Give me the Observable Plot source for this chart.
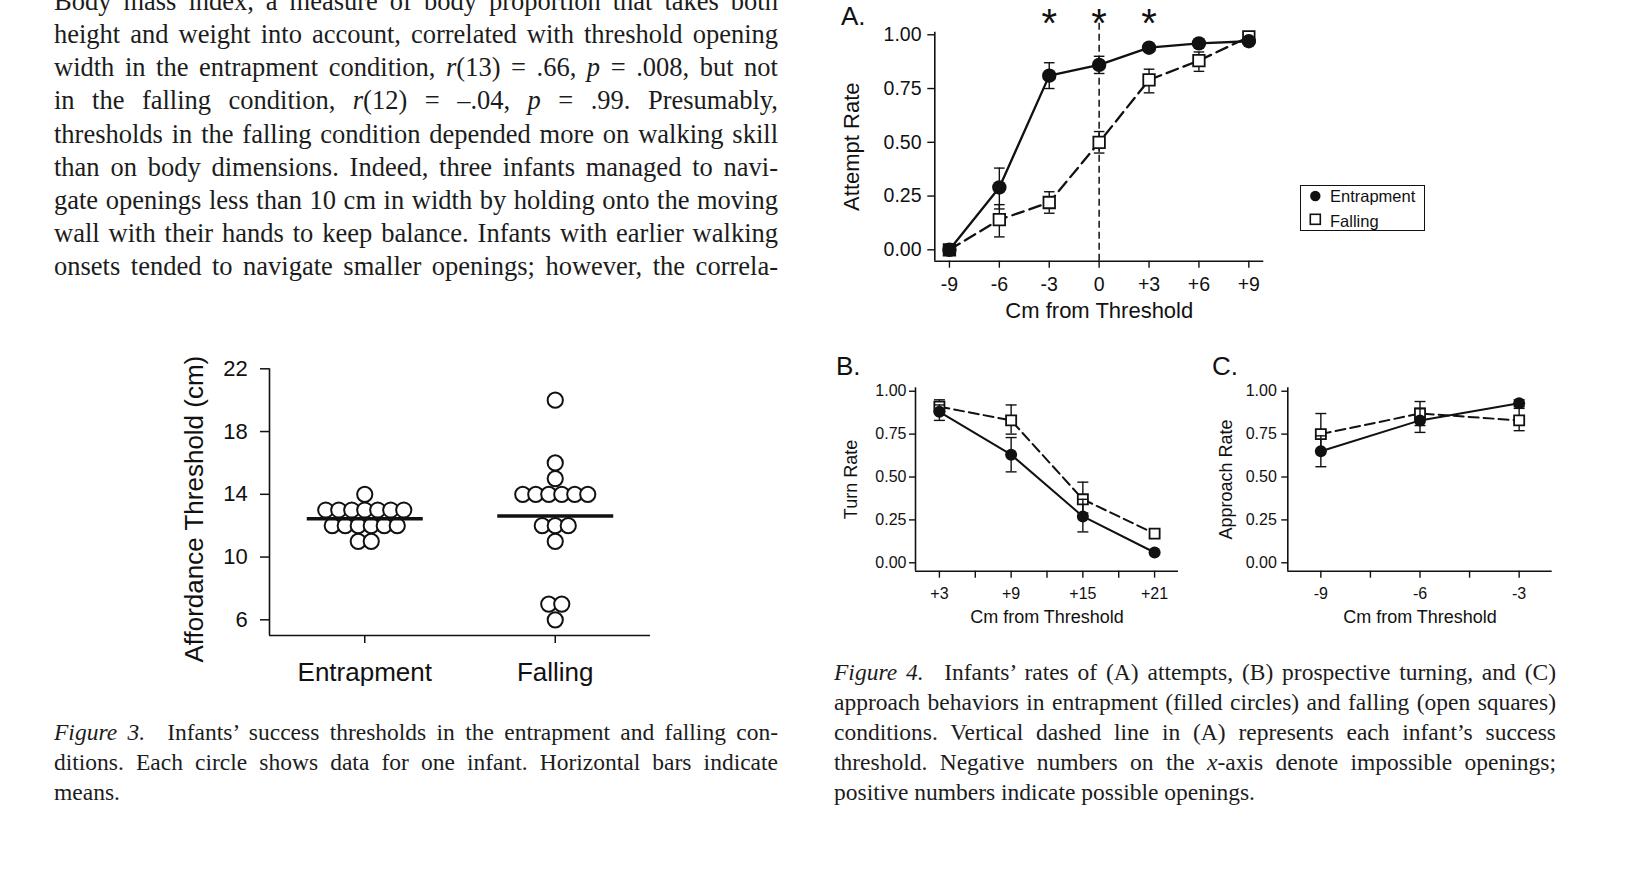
<!DOCTYPE html>
<html>
<head>
<meta charset="utf-8">
<script src="https://cdn.jsdelivr.net/npm/d3@7"></script>
<script src="https://cdn.jsdelivr.net/npm/@observablehq/plot@0.6"></script>
<style>
  html, body { margin:0; padding:0; background:#fff; }
  body { width:1628px; height:870px; position:relative; overflow:hidden; }
  .abs { position:absolute; }
  .serif { font-family:"Liberation Serif","Times New Roman",Times,serif; color:#1c1c1c; line-height:1; }
  .jl { text-align:justify; text-align-last:justify; }
  .sans { font-family:"Liberation Sans",Arial,Helvetica,sans-serif; color:#111; line-height:1; }
  svg { overflow: visible; }
</style>
</head>
<body>
<script>
// ---------------- DATA ----------------
// Figure 3: individual thresholds (cm)
const groups = ["Entrapment", "Falling"];
const entrapThresholds = [14, 13, 13, 13, 13, 13, 13, 13, 12, 12, 12, 12, 12, 12, 11, 11];
const fallThresholds = [20, 16, 15, 14, 14, 14, 14, 14, 14, 12, 12, 12, 11, 7, 7, 6];
const fig3YTicks = [6, 10, 14, 18, 22];

// Figure 4A: attempt rate
const attemptX = [-9, -6, -3, 0, 3, 6, 9];
const attemptXLabels = ["-9", "-6", "-3", "0", "+3", "+6", "+9"];
const attemptEnt = [0.00, 0.29, 0.81, 0.86, 0.94, 0.96, 0.97];
const attemptEntLo = [0.00, 0.19, 0.75, 0.82, 0.93, 0.95, 0.96];
const attemptEntHi = [0.00, 0.38, 0.87, 0.90, 0.95, 0.97, 0.98];
const attemptFal = [0.00, 0.14, 0.22, 0.50, 0.79, 0.88, 0.99];
const attemptFalLo = [0.00, 0.06, 0.17, 0.45, 0.73, 0.83, 0.98];
const attemptFalHi = [0.00, 0.21, 0.27, 0.55, 0.84, 0.92, 1.00];
const significantX = [-3, 0, 3];
const thresholdX = [0];

// Figure 4B: turn rate
const turnX = [3, 6, 9, 12, 15, 18, 21];
const turnXLabels = ["+3", "", "+9", "", "+15", "", "+21"];
const turnPts = [3, 9, 15, 21];
const turnEnt = [0.88, 0.63, 0.27, 0.06];
const turnEntLo = [0.83, 0.53, 0.18, 0.05];
const turnEntHi = [0.92, 0.73, 0.37, 0.07];
const turnFal = [0.91, 0.83, 0.37, 0.17];
const turnFalLo = [0.87, 0.75, 0.29, 0.17];
const turnFalHi = [0.95, 0.92, 0.47, 0.18];

// Figure 4C: approach rate
const apprX = [-9, -7.5, -6, -4.5, -3];
const apprXLabels = ["-9", "", "-6", "", "-3"];
const apprPts = [-9, -6, -3];
const apprEnt = [0.65, 0.83, 0.93];
const apprEntLo = [0.56, 0.76, 0.91];
const apprEntHi = [0.74, 0.90, 0.95];
const apprFal = [0.75, 0.87, 0.83];
const apprFalLo = [0.65, 0.80, 0.77];
const apprFalHi = [0.87, 0.94, 0.90];

const rateTicks = [0, 0.25, 0.5, 0.75, 1];
const rateTickLabels = ["0.00", "0.25", "0.50", "0.75", "1.00"];
const legendLabels = ["Entrapment", "Falling"];

// ---------------- TEXT ----------------
const bodyLines = [
  "Body mass index, a measure of body proportion that takes both",
  "height and weight into account, correlated with threshold opening",
  "width in the entrapment condition, <i>r</i>(13) = .66, <i>p</i> = .008, but not",
  "in the falling condition, <i>r</i>(12) = –.04, <i>p</i> = .99. Presumably,",
  "thresholds in the falling condition depended more on walking skill",
  "than on body dimensions. Indeed, three infants managed to navi-",
  "gate openings less than 10 cm in width by holding onto the moving",
  "wall with their hands to keep balance. Infants with earlier walking",
  "onsets tended to navigate smaller openings; however, the correla-"
];
const fig3Caption = [
  "<i>Figure 3.</i>&ensp; Infants’ success thresholds in the entrapment and falling con-",
  "ditions. Each circle shows data for one infant. Horizontal bars indicate",
  "means."
];
const fig4Caption = [
  "<i>Figure 4.</i>&ensp; Infants’ rates of (A) attempts, (B) prospective turning, and (C)",
  "approach behaviors in entrapment (filled circles) and falling (open squares)",
  "conditions. Vertical dashed line in (A) represents each infant’s success",
  "threshold. Negative numbers on the <i>x</i>-axis denote impossible openings;",
  "positive numbers indicate possible openings."
];

function placeLines(lines, {left, width, firstBaseline, step, fontSize, lastLeft}) {
  lines.forEach((html, i) => {
    const d = document.createElement("div");
    const last = lastLeft && i === lines.length - 1;
    d.className = "abs serif" + (last ? "" : " jl");
    d.style.left = left + "px";
    d.style.width = width + "px";
    d.style.fontSize = fontSize + "px";
    d.style.top = (firstBaseline + i * step - 0.8375 * fontSize) + "px";
    d.innerHTML = html;
    document.body.appendChild(d);
  });
}
placeLines(bodyLines, {left: 54, width: 724, firstBaseline: 10.5, step: 33.06, fontSize: 26.5});
placeLines(fig3Caption, {left: 54, width: 724, firstBaseline: 741, step: 30, fontSize: 23.5, lastLeft: true});
placeLines(fig4Caption, {left: 834, width: 722, firstBaseline: 681, step: 30, fontSize: 23.5, lastLeft: true});

function placeSans(text, left, baseline, fontSize) {
  const d = document.createElement("div");
  d.className = "abs sans";
  d.style.left = left + "px";
  d.style.top = (baseline - 0.8465 * fontSize) + "px";
  d.style.fontSize = fontSize + "px";
  d.style.zIndex = 5;
  d.textContent = text;
  document.body.appendChild(d);
}

function placeSvg(svg, left, top) {
  const wrap = document.createElement("div");
  wrap.className = "abs";
  wrap.style.left = left + "px";
  wrap.style.top = top + "px";
  wrap.appendChild(svg);
  document.body.appendChild(wrap);
}

const SANS = "'Liberation Sans', Arial, Helvetica, sans-serif";
const hline = { draw(ctx, size) { const r = Math.sqrt(size / Math.PI); ctx.moveTo(-r, 0); ctx.lineTo(r, 0); } };

// ---------------- FIGURE 3 ----------------
const dotStep = 13 / 190.5;
function swarm(values, gi) {
  const counts = d3.rollup(values, v => v.length, d => d);
  const seen = new Map();
  return values.map(v => {
    const n = counts.get(v), i = seen.get(v) ?? 0;
    seen.set(v, i + 1);
    return {x: gi + 1 + (i - (n - 1) / 2) * dotStep, y: v};
  });
}
const fig3Dots = [...swarm(entrapThresholds, 0), ...swarm(fallThresholds, 1)];
const fig3Means = [entrapThresholds, fallThresholds].map((vals, i) => ({x: i + 1, y: d3.mean(vals)}));

const fig3 = Plot.plot({
  width: 500, height: 350,
  marginLeft: 99, marginRight: 20, marginTop: 28.3, marginBottom: 55,
  x: {domain: [0.5, 2.5]},
  y: {domain: [5, 22]},
  style: {fontFamily: SANS, fontSize: "22px", color: "#111", background: "transparent"},
  marks: [
    Plot.ruleX([0.5], {stroke: "#111", strokeWidth: 1.6}),
    Plot.ruleY([5], {stroke: "#111", strokeWidth: 1.6}),
    Plot.axisY({ticks: fig3YTicks, tickSize: 9, tickPadding: 12.7, fontSize: 22, strokeWidth: 1.5, label: null}),
    Plot.axisX({ticks: [1, 2], tickFormat: d => groups[d - 1], tickSize: 8, tickPadding: 18.7, fontSize: 26, strokeWidth: 1.5, label: null}),
    Plot.dot(fig3Dots, {x: "x", y: "y", r: 7.6, fill: "white", stroke: "#111", strokeWidth: 2}),
    Plot.dot(fig3Means, {x: "x", y: "y", symbol: hline, r: 58, fill: "none", stroke: "#111", strokeWidth: 3.5}),
    Plot.text(["Affordance Threshold (cm)"], {text: d => d, frameAnchor: "left", textAnchor: "middle", rotate: -90, lineAnchor: "top", dx: -85, dy: 7, fontSize: 26})
  ]
});
placeSvg(fig3, 170, 340);

// ---------------- FIGURE 4 PANELS ----------------
function rows(xs, v, lo, hi) { return xs.map((x, i) => ({x, v: v[i], lo: lo[i], hi: hi[i]})); }

function panel(c) {
  const ent = rows(c.pts, c.ent, c.entLo, c.entHi);
  const fal = rows(c.pts, c.fal, c.falLo, c.falHi);
  const fmtX = d => c.xLabels[c.xTicks.indexOf(d)];
  const fmtY = d => rateTickLabels[rateTicks.indexOf(d)];
  const bar = (data) => [
    Plot.ruleX(data, {x: "x", y1: "lo", y2: "hi", stroke: "#111", strokeWidth: 1.4}),
    Plot.dot(data, {x: "x", y: "lo", symbol: hline, r: c.cap, fill: "none", stroke: "#111", strokeWidth: 1.4}),
    Plot.dot(data, {x: "x", y: "hi", symbol: hline, r: c.cap, fill: "none", stroke: "#111", strokeWidth: 1.4})
  ];
  return Plot.plot({
    width: c.width, height: c.height,
    marginLeft: c.mL, marginRight: c.mR, marginTop: c.mT, marginBottom: c.mB,
    x: {domain: c.xDomain},
    y: {domain: c.yDomain},
    style: {fontFamily: SANS, fontSize: c.tickFont + "px", color: "#111", background: "transparent"},
    marks: [
      Plot.ruleX([c.xDomain[0]], {stroke: "#111", strokeWidth: 1.6}),
      Plot.ruleY([c.yDomain[0]], {stroke: "#111", strokeWidth: 1.6}),
      Plot.axisY({ticks: rateTicks, tickFormat: fmtY, tickSize: c.yTS, tickPadding: c.yTP, fontSize: c.tickFont, strokeWidth: 1.4, label: null}),
      Plot.axisX({ticks: c.xTicks, tickFormat: fmtX, tickSize: c.xTS, tickPadding: c.xTP, fontSize: c.tickFont, strokeWidth: 1.4, label: null}),
      ...(c.extra || []),
      ...bar(fal),
      Plot.line(fal, {x: "x", y: "v", stroke: "#111", strokeWidth: c.lw, strokeDasharray: c.dash}),
      Plot.dot(fal, {x: "x", y: "v", symbol: "square", r: c.sqR, fill: "white", stroke: "#111", strokeWidth: 1.8}),
      ...bar(ent),
      Plot.line(ent, {x: "x", y: "v", stroke: "#111", strokeWidth: c.lw}),
      Plot.dot(ent, {x: "x", y: "v", symbol: "circle", r: c.cR, fill: "#111", stroke: "none"}),
      Plot.text([c.xTitle], {text: d => d, frameAnchor: "bottom", textAnchor: "middle", lineAnchor: "top", dy: c.xTitleDy, fontSize: c.titleFont}),
      Plot.text([c.yTitle], {text: d => d, frameAnchor: "left", textAnchor: "middle", rotate: -90, lineAnchor: "top", dx: c.yTitleDx, fontSize: c.titleFont})
    ]
  });
}

const panelA = panel({
  width: 450, height: 330, mL: 104.3, mR: 16.7, mT: 31.7, mB: 69.3,
  xDomain: [-9.88, 9.9], yDomain: [-0.053, 1.012],
  pts: attemptX, xTicks: attemptX, xLabels: attemptXLabels,
  ent: attemptEnt, entLo: attemptEntLo, entHi: attemptEntHi,
  fal: attemptFal, falLo: attemptFalLo, falHi: attemptFalHi,
  tickFont: 19.5, yTS: 7, yTP: 6.3, xTS: 7, xTP: 8.7,
  titleFont: 22, xTitle: "Cm from Threshold", yTitle: "Attempt Rate", xTitleDy: 40.7, yTitleDx: -91,
  lw: 2.3, dash: "12,6", cR: 7.2, sqR: 6.5, cap: 5.3,
  extra: [
    Plot.ruleX(thresholdX, {x: d => d, y1: -0.053, y2: 1.066, stroke: "#111", strokeWidth: 1.5, strokeDasharray: "7,4"}),
    Plot.text(significantX, {x: d => d, text: () => "*", frameAnchor: "top", textAnchor: "middle", lineAnchor: "top", dy: -23.5, fontSize: 40})
  ]
});
placeSvg(panelA, 830, 0);

const panelB = panel({
  width: 370, height: 290, mL: 85, mR: 22, mT: 47.3, mB: 59.3,
  xDomain: [1, 23], yDomain: [-0.049, 1.02],
  pts: turnPts, xTicks: turnX, xLabels: turnXLabels,
  ent: turnEnt, entLo: turnEntLo, entHi: turnEntHi,
  fal: turnFal, falLo: turnFalLo, falHi: turnFalHi,
  tickFont: 16, yTS: 6, yTP: 3, xTS: 7, xTP: 9.6,
  titleFont: 18, xTitle: "Cm from Threshold", yTitle: "Turn Rate", xTitleDy: 39.3, yTitleDx: -71.7,
  lw: 2, dash: "10,5", cR: 6, sqR: 5.7, cap: 5.5
});
placeSvg(panelB, 830, 340);

const panelC = panel({
  width: 380, height: 290, mL: 87.3, mR: 28.3, mT: 47.3, mB: 59.3,
  xDomain: [-10, -2], yDomain: [-0.049, 1.02],
  pts: apprPts, xTicks: apprX, xLabels: apprXLabels,
  ent: apprEnt, entLo: apprEntLo, entHi: apprEntHi,
  fal: apprFal, falLo: apprFalLo, falHi: apprFalHi,
  tickFont: 16, yTS: 6, yTP: 5, xTS: 7, xTP: 9.6,
  titleFont: 18, xTitle: "Cm from Threshold", yTitle: "Approach Rate", xTitleDy: 39.3, yTitleDx: -69,
  lw: 2, dash: "10,5", cR: 6, sqR: 5.7, cap: 5.5
});
placeSvg(panelC, 1200, 340);

// panel letters (on top of the SVGs)
placeSans("A.", 841, 25, 26);
placeSans("B.", 836, 375, 26);
placeSans("C.", 1212, 375, 26);

// ---------------- LEGEND ----------------
const legend = document.createElement("div");
legend.className = "abs sans";
legend.style.cssText = "left:1300px;top:185px;width:123px;height:44px;border:1.7px solid #111;background:#fff;";
const legendSymbols = [
  '<circle cx="14.3" cy="10" r="5.2" fill="#111"/>',
  '<rect x="9.3" y="28.3" width="10" height="10" fill="#fff" stroke="#111" stroke-width="1.6"/>'
];
legend.innerHTML = '<svg width="28" height="44" style="position:absolute;left:0;top:0">' + legendSymbols.join("") + '</svg>' +
  legendLabels.map((lab, i) => `<div style="position:absolute;left:29px;top:${2 + i * 25}px;font-size:16.5px;white-space:nowrap">${lab}</div>`).join("");
document.body.appendChild(legend);
</script>
</body>
</html>
